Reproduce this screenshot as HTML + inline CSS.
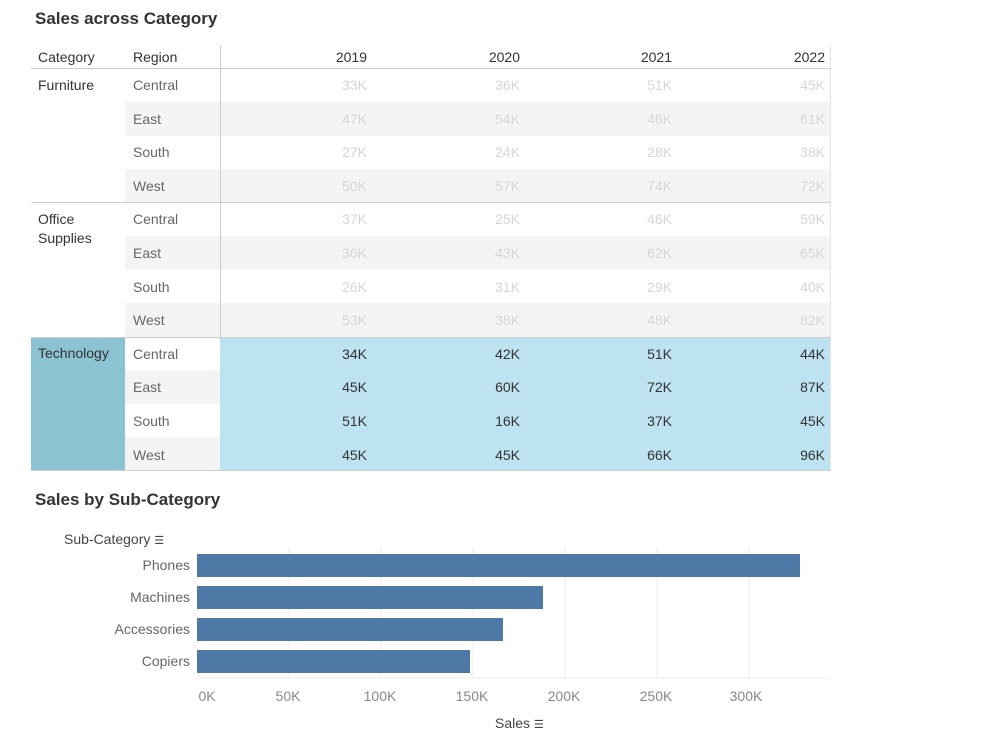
<!DOCTYPE html>
<html><head><style>
body{margin:0;width:982px;height:742px;background:#fff;font-family:"Liberation Sans",sans-serif;position:relative;overflow:hidden}
div{position:absolute}
.t{font-weight:bold;font-size:17px;color:#333}
.h{font-size:14px;color:#333;top:49px}
.r{font-size:14px;color:#666;left:133px}
.c{font-size:14px;color:#333}
.v{font-size:14px;text-align:right;width:60px}
.g{background:#f4f4f4;left:125px;width:705px;height:33.5px}
.lbl{font-size:14px;color:#666;text-align:right;width:150px;left:40px}
.ax{font-size:14px;color:#888;top:688px;width:60px;text-align:center}
</style></head><body>
<div class="t" style="left:35px;top:9px">Sales across Category</div>
<div class="g" style="top:102px"></div><div class="g" style="top:169px"></div>
<div class="g" style="top:236px"></div><div class="g" style="top:303px"></div>
<div style="left:220px;top:337px;width:610px;height:134px;background:#bde3f0"></div>
<div style="left:31px;top:337px;width:94px;height:134px;background:#8bc3d3"></div>
<div class="g" style="top:370px;width:95px"></div><div class="g" style="top:437px;width:95px"></div>
<div style="left:31px;top:68px;width:799px;height:1px;background:#ccc"></div>
<div style="left:31px;top:202px;width:799px;height:1px;background:#ccc"></div>
<div style="left:31px;top:337px;width:799px;height:1px;background:#ccc"></div>
<div style="left:31px;top:470px;width:799px;height:1px;background:#ccc"></div>
<div style="left:220px;top:45px;width:1px;height:292px;background:#ccc"></div>
<div style="left:830px;top:45px;width:1px;height:426px;background:#e4e4e4"></div>
<div class="h" style="left:38px">Category</div><div class="h" style="left:133px">Region</div>
<div class="h v" style="left:307px">2019</div><div class="h v" style="left:460px">2020</div><div class="h v" style="left:612px">2021</div><div class="h v" style="left:765px">2022</div>
<div class="c" style="left:38px;top:77px">Furniture</div>
<div class="c" style="left:38px;top:210px;line-height:19px">Office<br>Supplies</div>
<div class="c" style="left:38px;top:345px">Technology</div>
<div id="rows"></div>
<div class="t" style="left:35px;top:490px">Sales by Sub-Category</div>
<div style="left:64px;top:531px;font-size:14px;color:#444">Sub-Category <span style="font-size:11px">☰</span></div>
<svg style="position:absolute;left:0;top:0" width="982" height="742">
<g stroke="#eee" stroke-width="1">
<line x1="289" y1="548" x2="289" y2="678"/><line x1="381" y1="548" x2="381" y2="678"/><line x1="473" y1="548" x2="473" y2="678"/><line x1="565" y1="548" x2="565" y2="678"/><line x1="657" y1="548" x2="657" y2="678"/><line x1="749" y1="548" x2="749" y2="678"/>
<line x1="197" y1="678" x2="830" y2="678"/></g>
<g fill="#4e79a7"><rect x="197" y="554" width="603" height="23"/><rect x="197" y="586" width="346" height="23"/><rect x="197" y="618" width="306" height="23"/><rect x="197" y="650" width="273" height="23"/></g>
</svg>
<div class="lbl" style="top:557px">Phones</div><div class="lbl" style="top:589px">Machines</div><div class="lbl" style="top:621px">Accessories</div><div class="lbl" style="top:653px">Copiers</div>
<div class="ax" style="left:177px">0K</div><div class="ax" style="left:258px">50K</div><div class="ax" style="left:350px">100K</div><div class="ax" style="left:442px">150K</div><div class="ax" style="left:534px">200K</div><div class="ax" style="left:626px">250K</div><div class="ax" style="left:716px">300K</div>
<div style="left:495px;top:715px;font-size:14px;color:#444">Sales <span style="font-size:11px">☰</span></div>
<script>
var regs=["Central","East","South","West"];
var d=[[33,36,51,45],[47,54,46,61],[27,24,28,38],[50,57,74,72],[37,25,46,59],[36,43,62,65],[26,31,29,40],[53,38,48,82],[34,42,51,44],[45,60,72,87],[51,16,37,45],[45,45,66,96]];
var xs=[307,460,612,765],h="";
for(var i=0;i<12;i++){var y=68+i*33.6+9;var col=i>=8?"#333":"#d6d6d6";
h+='<div class="r" style="top:'+y+'px">'+regs[i%4]+'</div>';
for(var j=0;j<4;j++)h+='<div class="v" style="left:'+xs[j]+'px;top:'+y+'px;color:'+col+'">'+d[i][j]+'K</div>';}
document.getElementById("rows").outerHTML=h;
</script>
</body></html>
